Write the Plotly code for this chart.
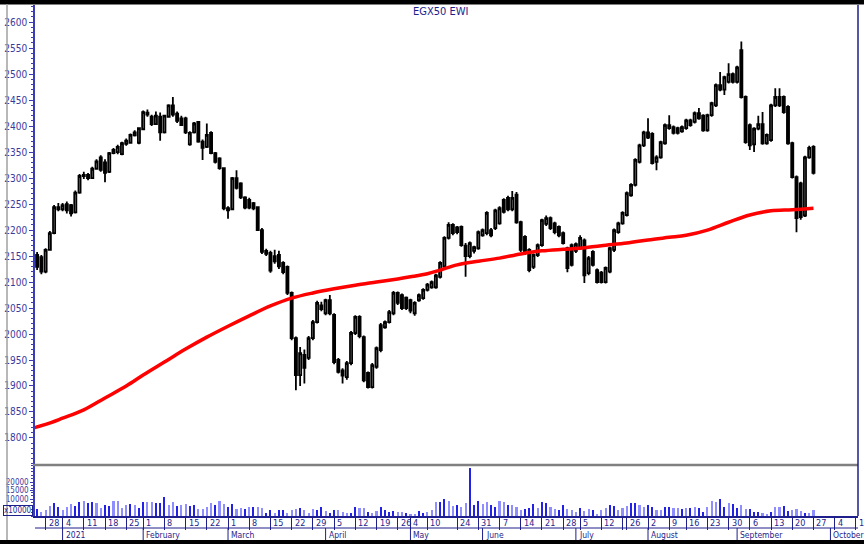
import pandas as pd
import plotly.graph_objects as go

TITLE = "EGX50 EWI"

# ---------------- trading calendar (x categories) ----------------
FIRST_DAY, LAST_DAY = "2020-12-24", "2021-09-27"
holidays = ["2021-01-01", "2021-01-28", "2021-04-29", "2021-04-30", "2021-05-03",
            "2021-05-13", "2021-05-14", "2021-05-17", "2021-07-01", "2021-07-20",
            "2021-07-21", "2021-07-22", "2021-07-23", "2021-08-11"]
dates = [d.strftime("%Y-%m-%d") for d in pd.bdate_range(FIRST_DAY, LAST_DAY)
         if d.strftime("%Y-%m-%d") not in holidays]

# ---------------- OHLC ----------------
open_ = [2152, 2148, 2120, 2162, 2194, 2244, 2240, 2250, 2248, 2234,
         2272, 2304, 2306, 2300, 2318, 2340, 2330, 2312, 2348, 2350,
         2346, 2366, 2368, 2382, 2368, 2394, 2426, 2418, 2404, 2418,
         2388, 2418, 2440, 2424, 2415, 2415, 2365, 2388, 2408, 2370,
         2360, 2387, 2348, 2338, 2319, 2242, 2240, 2300, 2290, 2263,
         2258, 2252, 2244, 2200, 2160, 2156, 2150, 2152, 2137, 2129,
         2079, 1992, 1921, 1960, 1954, 1992, 2023, 2055, 2040, 2065,
         2037, 1950, 1930, 1917, 1944, 2002, 2033, 1994, 1925, 1898,
         1937, 2017, 2013, 2023, 2040, 2079, 2075, 2070, 2065, 2040,
         2065, 2069, 2085, 2090, 2090, 2110, 2130, 2185, 2210, 2205,
         2206, 2170, 2150, 2160, 2165, 2190, 2194, 2200, 2204, 2213,
         2258, 2262, 2240, 2268, 2215, 2187, 2162, 2129, 2152, 2171,
         2212, 2223, 2213, 2206, 2194, 2165, 2171, 2160, 2165, 2180,
         2117, 2158, 2123, 2118, 2100, 2120, 2162, 2196, 2213, 2229,
         2267, 2287, 2331, 2363, 2388, 2385, 2331, 2340, 2367, 2396,
         2398, 2396, 2390, 2396, 2411, 2408, 2425, 2420, 2392, 2421,
         2440, 2479, 2470, 2485, 2500, 2485, 2546, 2456, 2402, 2365,
         2395, 2404, 2367, 2373, 2440, 2456, 2456, 2437, 2367, 2302,
         2290, 2228, 2340, 2360]
high = [2158, 2152, 2165, 2198, 2248, 2252, 2252, 2255, 2250, 2276,
        2308, 2312, 2310, 2322, 2336, 2344, 2336, 2350, 2358, 2364,
        2370, 2376, 2386, 2392, 2398, 2430, 2432, 2422, 2428, 2426,
        2422, 2442, 2456, 2428, 2420, 2418, 2390, 2408, 2410, 2374,
        2405, 2390, 2350, 2340, 2320, 2246, 2302, 2315, 2292, 2265,
        2262, 2254, 2246, 2204, 2164, 2160, 2162, 2160, 2140, 2132,
        2082, 1995, 1975, 1970, 1996, 2027, 2064, 2062, 2068, 2075,
        2040, 1954, 1934, 1948, 2006, 2036, 2036, 1997, 1928, 1944,
        1976, 2021, 2026, 2046, 2083, 2082, 2078, 2072, 2068, 2063,
        2078, 2088, 2098, 2103, 2116, 2140, 2188, 2215, 2213, 2208,
        2209, 2175, 2178, 2170, 2199, 2203, 2236, 2204, 2241, 2246,
        2261, 2266, 2275, 2273, 2218, 2190, 2165, 2155, 2174, 2222,
        2228, 2226, 2216, 2209, 2197, 2168, 2174, 2176, 2190, 2184,
        2150, 2161, 2126, 2121, 2130, 2168, 2203, 2216, 2236, 2274,
        2290, 2338, 2366, 2391, 2415, 2388, 2344, 2372, 2405, 2421,
        2401, 2399, 2401, 2414, 2414, 2428, 2435, 2423, 2424, 2447,
        2482, 2504, 2497, 2521, 2503, 2516, 2563, 2459, 2405, 2398,
        2420, 2427, 2386, 2443, 2473, 2473, 2459, 2440, 2370, 2305,
        2293, 2343, 2362, 2363]
low = [2123, 2115, 2117, 2160, 2192, 2236, 2236, 2232, 2226, 2232,
       2270, 2298, 2296, 2298, 2316, 2312, 2292, 2310, 2346, 2346,
       2344, 2362, 2366, 2380, 2365, 2392, 2418, 2400, 2402, 2372,
       2386, 2416, 2418, 2406, 2400, 2385, 2362, 2386, 2368, 2335,
       2358, 2346, 2328, 2316, 2238, 2222, 2238, 2278, 2260, 2240,
       2240, 2238, 2198, 2154, 2150, 2118, 2135, 2125, 2115, 2075,
       1988, 1892, 1900, 1905, 1950, 1988, 2020, 2044, 2036, 2036,
       1942, 1924, 1905, 1912, 1940, 1998, 1992, 1907, 1895, 1895,
       1933, 1965, 2010, 2020, 2036, 2056, 2046, 2046, 2040, 2035,
       2062, 2066, 2082, 2087, 2087, 2107, 2127, 2182, 2190, 2192,
       2168, 2110, 2146, 2155, 2162, 2187, 2190, 2186, 2200, 2210,
       2232, 2236, 2236, 2212, 2158, 2152, 2119, 2125, 2148, 2168,
       2208, 2200, 2192, 2186, 2172, 2119, 2130, 2156, 2162, 2098,
       2113, 2130, 2097, 2097, 2097, 2117, 2158, 2193, 2210, 2226,
       2264, 2284, 2328, 2360, 2375, 2326, 2315, 2337, 2364, 2393,
       2384, 2384, 2387, 2393, 2399, 2405, 2412, 2389, 2389, 2418,
       2437, 2467, 2460, 2482, 2482, 2482, 2453, 2366, 2354, 2350,
       2392, 2364, 2364, 2370, 2437, 2437, 2424, 2364, 2299, 2196,
       2220, 2225, 2337, 2307]
close = [2129, 2120, 2162, 2194, 2244, 2240, 2248, 2238, 2232, 2272,
         2304, 2306, 2300, 2318, 2332, 2316, 2310, 2348, 2354, 2360,
         2367, 2372, 2383, 2388, 2396, 2427, 2422, 2404, 2420, 2388,
         2420, 2440, 2422, 2410, 2402, 2388, 2387, 2405, 2370, 2358,
         2383, 2348, 2331, 2319, 2242, 2238, 2300, 2281, 2263, 2243,
         2243, 2242, 2200, 2158, 2154, 2122, 2140, 2130, 2119, 2079,
         1992, 1921, 1963, 1935, 1992, 2023, 2060, 2048, 2065, 2040,
         1946, 1927, 1920, 1944, 2002, 2033, 1996, 1911, 1898, 1940,
         1973, 1969, 2023, 2042, 2079, 2060, 2050, 2050, 2045, 2060,
         2075, 2085, 2095, 2100, 2113, 2137, 2185, 2210, 2194, 2196,
         2171, 2150, 2175, 2167, 2196, 2200, 2233, 2190, 2238, 2242,
         2235, 2240, 2262, 2215, 2162, 2156, 2123, 2152, 2171, 2219,
         2223, 2204, 2196, 2190, 2175, 2127, 2133, 2173, 2185, 2113,
         2146, 2133, 2100, 2100, 2127, 2165, 2200, 2213, 2233, 2271,
         2287, 2335, 2363, 2388, 2378, 2329, 2340, 2369, 2402, 2402,
         2387, 2387, 2398, 2411, 2402, 2425, 2415, 2392, 2421, 2444,
         2479, 2470, 2494, 2500, 2485, 2513, 2456, 2369, 2363, 2395,
         2404, 2367, 2383, 2440, 2456, 2440, 2427, 2367, 2302, 2223,
         2225, 2340, 2358, 2310]

# ---------------- volume ----------------
volume = [4100, 2500, 3500, 5900, 7600, 5100, 3500, 5500, 7100, 5900,
          8400, 8800, 7600, 8200, 7600, 4700, 6500, 5900, 8800, 8800,
          4700, 6500, 7100, 6500, 4700, 8200, 8200, 8200, 7600, 7600,
          11200, 6500, 8200, 5900, 6500, 7100, 5900, 6500, 3900, 3900,
          5100, 7600, 6500, 8800, 7100, 5100, 7100, 4100, 4500, 4100,
          5100, 5100, 5100, 4500, 1900, 3500, 1600, 3500, 3500, 1900,
          3500, 3900, 4500, 3500, 1600, 4100, 3500, 5500, 2900, 1600,
          3500, 3500, 2500, 1900, 1900, 5100, 4700, 4700, 2500, 1800,
          3100, 5500, 3500, 2500, 3100, 2500, 2500, 1600, 1200, 1200,
          2900, 1900, 2500, 3500, 8400, 8400, 9800, 8800, 5900, 6500,
          5500, 7600, 28000, 6500, 8800, 7100, 8400, 6500, 5100, 8800,
          8400, 6500, 6500, 5500, 3500, 4100, 4500, 7100, 4500, 8400,
          7600, 5100, 4100, 3500, 6500, 4100, 3500, 2500, 4500, 3100,
          3900, 3500, 1200, 3500, 4500, 6500, 5900, 3500, 4500, 5900,
          7600, 7600, 6500, 5500, 6500, 5500, 3500, 3500, 5500, 5500,
          4700, 4500, 4100, 4500, 4500, 5500, 4500, 2500, 5500, 8800,
          8400, 9800, 5500, 7500, 7100, 4700, 6500, 4100, 4100, 2500,
          2500, 1900, 900, 2500, 5100, 5500, 5900, 3100, 3500, 4100,
          3100, 1600, 1600, 3500]
# shade of each volume bar as drawn in the picture: d = dark blue, l = light blue
vol_shade = list("dlllddllld" "dlddllddll" "lldlddlldd" "dlldllddll" "lldllddlld"
                 "ldllddlddl" "ll"
                 "dlllddlddl" "llddlldlld" "dddlldlldd" "lllddlldll" "dddllddlld"
                 "llldddlddl" "lddllldll"
                 "dlllddllld" "dllddllddl" "ldldlddlll" "ddlddllddd" "lldllddlll" "dll")

# ---------------- moving average (red line) ----------------
ma_dates = ["2020-12-23", "2020-12-28", "2021-01-04", "2021-01-11", "2021-01-18", "2021-01-25",
            "2021-02-01", "2021-02-08", "2021-02-15", "2021-02-22", "2021-03-01", "2021-03-08",
            "2021-03-15", "2021-03-22", "2021-03-29", "2021-04-05", "2021-04-12", "2021-04-19",
            "2021-04-26", "2021-05-04", "2021-05-10", "2021-05-18", "2021-05-24", "2021-05-31",
            "2021-06-07", "2021-06-14", "2021-06-21", "2021-06-28", "2021-07-05", "2021-07-12",
            "2021-07-26", "2021-08-02", "2021-08-09", "2021-08-16", "2021-08-23", "2021-08-30",
            "2021-09-06", "2021-09-13", "2021-09-20", "2021-09-27"]
ma_values = [1819, 1826, 1838, 1854, 1877, 1900, 1921, 1946, 1971, 1994, 2015, 2035,
             2054, 2069, 2079, 2087, 2094, 2100, 2106, 2110, 2116, 2123, 2133, 2140,
             2146, 2154, 2160, 2163, 2165, 2170, 2175, 2181, 2186, 2190, 2200, 2215,
             2229, 2237, 2239, 2242]

# ---------------- axis labels ----------------
price_ticks = [1800, 1850, 1900, 1950, 2000, 2050, 2100, 2150, 2200, 2250,
               2300, 2350, 2400, 2450, 2500, 2550, 2600]
volume_ticks = [10000, 15000, 20000]
tick_dates = ["2020-12-28", "2021-01-04", "2021-01-11", "2021-01-18", "2021-01-25",
              "2021-02-01", "2021-02-08", "2021-02-15", "2021-02-22", "2021-03-01",
              "2021-03-08", "2021-03-15", "2021-03-22", "2021-03-29", "2021-04-05",
              "2021-04-12", "2021-04-19", "2021-04-26", "2021-05-04", "2021-05-10",
              "2021-05-24", "2021-05-31", "2021-06-07", "2021-06-14", "2021-06-21",
              "2021-06-28", "2021-07-05", "2021-07-12", "2021-07-19", "2021-07-26",
              "2021-08-02", "2021-08-09", "2021-08-16", "2021-08-23", "2021-08-30",
              "2021-09-06", "2021-09-13", "2021-09-20", "2021-09-27", "2021-10-04",
              "2021-10-11"]
tick_labels = ["28", "4", "11", "18", "25", "1", "8", "15", "22", "1", "8", "15", "22",
               "29", "5", "12", "19", "26", "4", "10", "24", "31", "7", "14", "21", "28",
               "5", "12", "", "26", "2", "9", "16", "23", "30", "6", "13", "20", "27",
               "4", "11"]
month_dates = ["2021-01-04", "2021-02-01", "2021-03-01", "2021-04-01", "2021-05-04",
               "2021-06-01", "2021-07-02", "2021-08-02", "2021-09-01", "2021-10-01"]
month_labels = ["2021", "February", "March", "April", "May", "June", "July",
                "August", "September", "October"]

assert len(dates) == len(open_) == len(high) == len(low) == len(close) == len(volume), \
    (len(dates), len(open_), len(high), len(low), len(close), len(volume))
assert len(vol_shade) == len(volume), len(vol_shade)

# ---------------- styling ----------------
W, H = 864, 544
ML, MR, MT, MB = 35, 6, 5, 28
PW, PH = W - ML - MR, H - MT - MB
NAVY = "#1e1e8c"
AXB = "#3c3cb4"
LBL = "#3a3a9e"
FONT = "DejaVu Sans Condensed, Liberation Sans Narrow, Arial Narrow, sans-serif"
X_RANGE = ["2020-12-23 12:00", "2021-10-11 12:00"]
VOL_TOP = 51 / PH   # price panel bottom in paper units


def py(pix):  # paper y from page pixel row
    return (H - MB - pix) / PH


def px(pix):  # paper x from page pixel column
    return (pix - ML) / PW


breaks = [dict(bounds=["sat", "mon"]), dict(values=holidays)]

fig = go.Figure()
fig.add_trace(go.Candlestick(
    x=dates, open=open_, high=high, low=low, close=close,
    increasing=dict(line=dict(color="black", width=1.8), fillcolor="white"),
    decreasing=dict(line=dict(color="black", width=1.8), fillcolor="black"),
    whiskerwidth=0, showlegend=False, xaxis="x", yaxis="y"))
fig.add_trace(go.Scatter(
    x=ma_dates, y=ma_values, mode="lines", line=dict(color="#ff0000", width=3.5, shape="spline"),
    showlegend=False, xaxis="x", yaxis="y", cliponaxis=True))

light_x = [d for d, s in zip(dates, vol_shade) if s == "l"]
light_v = [v for v, s in zip(volume, vol_shade) if s == "l"]
dark_x = [d for d, s in zip(dates, vol_shade) if s == "d"]
dark_v = [v for v, s in zip(volume, vol_shade) if s == "d"]
fig.add_trace(go.Bar(x=light_x, y=light_v, marker=dict(color="#8e8eff", line=dict(width=0)),
                     width=0.5 * 86400000, showlegend=False, xaxis="x2", yaxis="y2"))
fig.add_trace(go.Bar(x=dark_x, y=dark_v, marker=dict(color="#2222e6", line=dict(width=0)),
                     width=0.28 * 86400000, showlegend=False, xaxis="x2", yaxis="y2"))

shapes = [
    dict(type="rect", xref="paper", yref="paper", x0=px(-5), x1=px(W + 5), y0=py(4.5), y1=py(-5),
         fillcolor="black", line=dict(width=0), layer="above"),
    dict(type="rect", xref="paper", yref="paper", x0=px(-5), x1=px(W + 5), y0=py(H + 5), y1=py(540),
         fillcolor="black", line=dict(width=0), layer="above"),
    dict(type="line", xref="paper", yref="paper", x0=px(7), x1=px(7), y0=py(4), y1=py(540),
         line=dict(color="#a0a0a0", width=1.5)),
    dict(type="line", xref="paper", yref="paper", x0=px(33), x1=1, y0=VOL_TOP, y1=VOL_TOP,
         line=dict(color="#808080", width=2.5)),
    dict(type="line", xref="paper", yref="paper", x0=1, x1=1, y0=0, y1=1,
         line=dict(color=NAVY, width=1.5)),
    dict(type="line", xref="paper", yref="paper", x0=0, x1=1, y0=py(528), y1=py(528),
         line=dict(color=NAVY, width=1)),
]
for d in month_dates:
    shapes.append(dict(type="line", xref="x2", yref="paper", x0=d, x1=d, y0=py(528), y1=py(540),
                       line=dict(color=NAVY, width=1)))

annotations = [dict(text=TITLE, xref="paper", yref="paper", x=px(440), y=py(11), showarrow=False,
                    font=dict(family=FONT, size=11, color=NAVY), xanchor="center", yanchor="middle")]
for d, t in zip(tick_dates, tick_labels):
    if t:
        annotations.append(dict(text=t, xref="x2", yref="paper", x=d, y=py(522.5), showarrow=False,
                                xanchor="left", yanchor="middle", xshift=1,
                                font=dict(family=FONT, size=9, color=NAVY)))
for d, t in zip(month_dates, month_labels):
    annotations.append(dict(text=t, xref="x2", yref="paper", x=d, y=py(534.5), showarrow=False,
                            xanchor="left", yanchor="middle", xshift=1,
                            font=dict(family=FONT, size=8.5, color=NAVY)))
annotations.append(dict(text="x10000", xref="paper", yref="paper", x=px(33), y=py(510.5),
                        showarrow=False, xanchor="right", yanchor="middle",
                        font=dict(family=FONT, size=8, color=NAVY),
                        bordercolor=NAVY, borderwidth=1, borderpad=0))

fig.update_layout(
    width=W, height=H, margin=dict(l=ML, r=MR, t=MT, b=MB, autoexpand=False),
    paper_bgcolor="white", plot_bgcolor="white",
    font=dict(family=FONT, size=10, color=LBL),
    showlegend=False, bargap=0, hovermode=False,
    xaxis=dict(domain=[0, 1], anchor="y", range=X_RANGE, rangebreaks=breaks, automargin=False,
               showticklabels=False, ticks="", showgrid=False, zeroline=False,
               showline=False, rangeslider=dict(visible=False), matches="x2"),
    xaxis2=dict(domain=[0, 1], anchor="y2", range=X_RANGE, rangebreaks=breaks, automargin=False,
                tickmode="array", tickvals=tick_dates, ticks="outside", ticklen=12,
                tickcolor=NAVY, tickwidth=1, showticklabels=False, showgrid=False,
                zeroline=False, showline=True, linecolor=NAVY, linewidth=1.5),
    yaxis=dict(domain=[VOL_TOP, 1], anchor="x", range=[1748, 2633], automargin=False,
               tickmode="array", tickvals=price_ticks, ticktext=[str(v) for v in price_ticks],
               ticks="outside", ticklen=4, tickcolor=AXB, tickwidth=1,
               minor=dict(tickmode="linear", tick0=1800, dtick=10, ticks="outside",
                          ticklen=2, tickcolor=AXB, showgrid=False),
               showgrid=False, zeroline=False, showline=True, linecolor=AXB, linewidth=1.5,
               tickfont=dict(family=FONT, size=10, color=LBL)),
    yaxis2=dict(domain=[0, VOL_TOP], anchor="x2", range=[0, 30000], automargin=False,
                tickmode="array", tickvals=volume_ticks, ticktext=[str(v) for v in volume_ticks],
                ticks="outside", ticklen=3, tickcolor=AXB, tickwidth=1,
                minor=dict(tickmode="linear", tick0=0, dtick=2000, ticks="outside",
                           ticklen=2, tickcolor=AXB, showgrid=False),
                showgrid=False, zeroline=False, showline=True, linecolor=AXB, linewidth=1.5,
                tickfont=dict(family=FONT, size=8, color=LBL)),
    shapes=shapes, annotations=annotations,
)

fig.write_html("out.html", config={"displayModeBar": False},
               post_script="document.body.style.margin='0';document.body.style.padding='0';")
